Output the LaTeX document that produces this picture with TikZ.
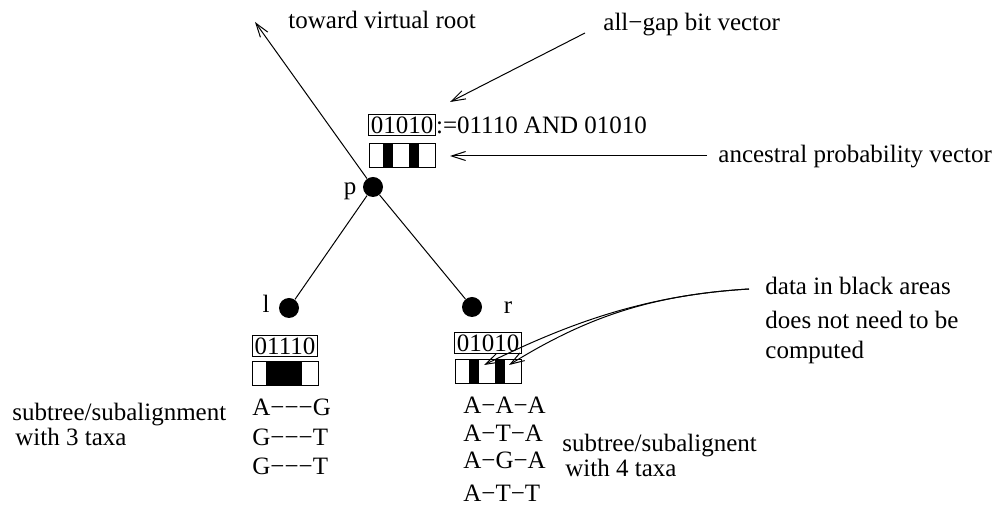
\documentclass[tikz,border=0pt]{standalone}
\usepackage{fontspec}
\setmainfont{Liberation Serif}
\usepackage{tikz}
\usetikzlibrary{arrows.meta, calc}

\tikzset{
    vertex/.style={circle, fill=black, minimum size=10pt, inner sep=0pt},
    bitbox/.style={draw, line width=0.4pt, inner sep=1pt},
    probbox/.style={draw, line width=0.4pt, minimum width=33pt, minimum height=12pt, inner sep=0pt},
    txt/.style={inner sep=0pt, anchor=base west},
    arr/.style={-{Straight Barb[length=7pt,width=4.5pt]}, line width=0.5pt},
}

% black columns of a probability vector: node name, list of from/to columns
\newcommand{\probbars}[2]{%
    \foreach \a/\b in {#2}
        \fill ($(#1.south west)+(\a*13-11.5,0)$) rectangle ($(#1.north west)+(\b*13-1.5,0)$);
}

\begin{document}
\begin{tikzpicture}[x=0.5pt, y=-0.5pt, font=\fontsize{12.5}{14.5}\selectfont]
    \useasboundingbox (0,0) rectangle (1002,512);

    % tree
    \node[vertex] (p) at (373,187) {};
    \node[vertex] (l) at (289,308) {};
    \node[vertex] (r) at (472,307) {};
    \node[inner sep=0pt, anchor=base] (plab) at (350,195) {p};
    \node[inner sep=0pt, anchor=base] (llab) at (266,313) {l};
    \node[inner sep=0pt, anchor=base] (rlab) at (508,314) {r};
    \coordinate (root) at (255,22);
    \draw[line width=0.5pt] (p) -- (l);
    \draw[line width=0.5pt] (p) -- (r);
    \draw[arr] (p) -- (root);
    \node[txt] (troot) at (288,29) {toward virtual root};

    % vectors at p
    \node[bitbox] (pbit) at (402,125) {01010};
    \node[txt] (pdef) at (pbit.base east) {:=01110 AND 01010};
    \node[probbox] (pprob) at (402,155) {};
    \probbars{pprob}{2/2,4/4}

    % vectors at l and r
    \node[bitbox] (lbit) at (285,346) {01110};
    \node[probbox] (lprob) at (285,373) {};
    \probbars{lprob}{2/4}
    \node[bitbox] (rbit) at (488,343) {01010};
    \node[probbox] (rprob) at (488,371) {};
    \probbars{rprob}{2/2,4/4}

    % annotations
    \node[txt] (gap) at (603,31) {all−gap bit vector};
    \coordinate (gaptail) at (585,33);
    \coordinate (gaptip) at (450,102);
    \draw[arr] (gaptail) -- (gaptip);

    \node[txt] (ances) at (718,163) {ancestral probability vector};
    \coordinate (ancestail) at (707,156);
    \coordinate (ancestip) at (450,156);
    \draw[arr] (ancestail) -- (ancestip);

    \node[txt] (data1) at (765,295) {data in black areas};
    \node[txt] (data2) at (765,329) {does not need to be};
    \node[txt] (data3) at (765,359) {computed};
    \coordinate (datatail) at (749,289);
    \coordinate (tipa) at (484,365);
    \coordinate (tipb) at (509,365);
    \draw[arr] (datatail) .. controls (650,295) and (575,320) .. (tipa);
    \draw[arr] (datatail) .. controls (650,295) and (585,318) .. (tipb);

    % subalignments
    \node[txt] (lsub1) at (12,421) {subtree/subalignment};
    \node[txt] (lsub2) at (15,446) {with 3 taxa};
    \node[txt] (lseq1) at (252,416) {A−−−G};
    \node[txt] (lseq2) at (252,446) {G−−−T};
    \node[txt] (lseq3) at (252,475) {G−−−T};

    \node[txt] (rseq1) at (463,414) {A−A−A};
    \node[txt] (rseq2) at (463,442) {A−T−A};
    \node[txt] (rseq3) at (463,469) {A−G−A};
    \node[txt] (rseq4) at (463,502) {A−T−T};
    \node[txt] (rsub1) at (562,452) {subtree/subalignent};
    \node[txt] (rsub2) at (565,477) {with 4 taxa};
\end{tikzpicture}
\end{document}
